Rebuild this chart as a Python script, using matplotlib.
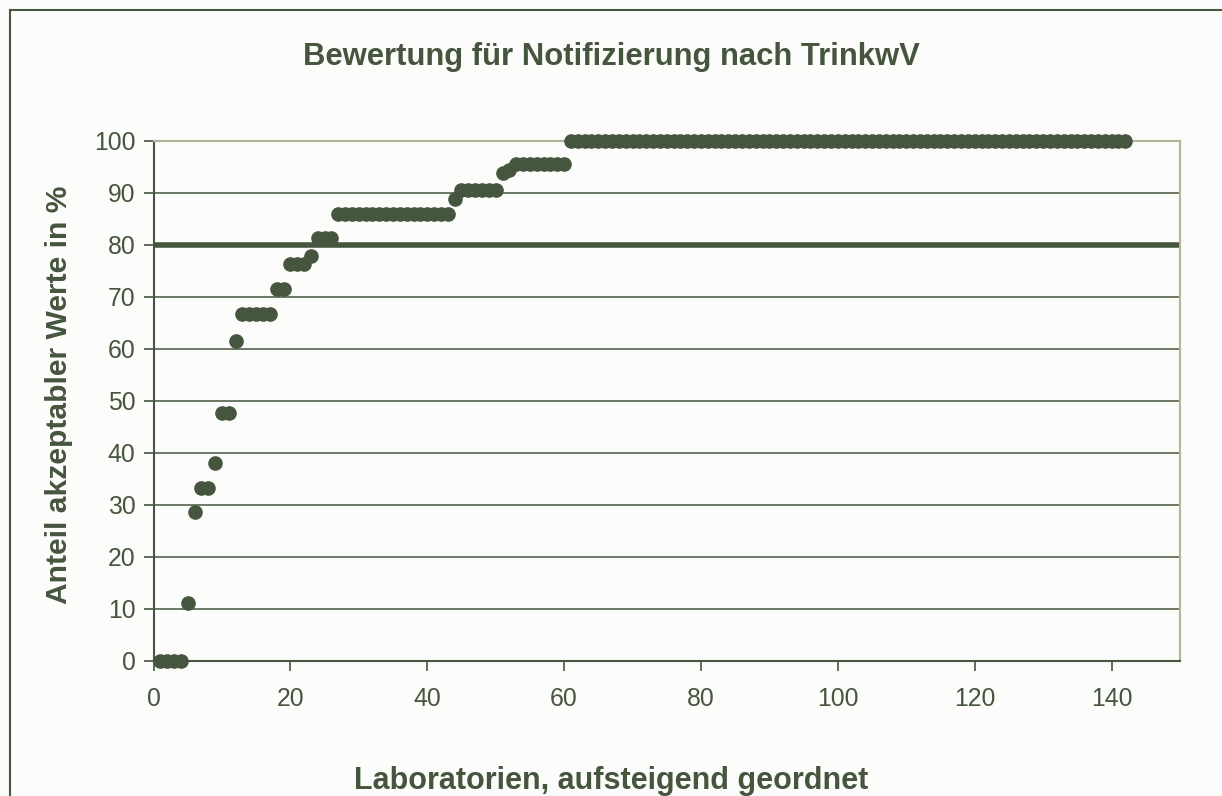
import matplotlib
matplotlib.use("Agg")
import matplotlib.pyplot as plt
import numpy as np

# Data: distinct levels (%) and how many laboratories share each level
levels = [0, 11.1, 28.6, 33.3, 38.1, 47.6, 61.5, 66.7, 71.6, 76.3, 77.8,
          81.3, 85.9, 88.9, 90.5, 93.8, 94.4, 95.6, 100]
counts = [4, 1, 1, 2, 1, 2, 1, 5, 2, 3, 1,
          3, 17, 1, 6, 1, 1, 8, 82]
threshold = 80
title = "Bewertung für Notifizierung nach TrinkwV"
xlabel = "Laboratorien, aufsteigend geordnet"
ylabel = "Anteil akzeptabler Werte in %"
xticks = [0, 20, 40, 60, 80, 100, 120, 140]
yticks = [0, 10, 20, 30, 40, 50, 60, 70, 80, 90, 100]

values = np.repeat(levels, counts)
labs = np.arange(1, len(values) + 1)

dark = "#45553e"
light = "#b3b39c"
bg = "#fcfcfa"

plt.rcParams["font.family"] = ["Liberation Sans", "DejaVu Sans"]

fig = plt.figure(figsize=(12.22, 7.96), dpi=100, facecolor=bg)
ax = fig.add_axes([153.5 / 1222, 1 - 661 / 796, (1180 - 153.5) / 1222, (661 - 141) / 796])
ax.set_facecolor(bg)

ax.set_xlim(0, 150)
ax.set_ylim(0, 100)

for y in yticks[1:-1]:
    ax.axhline(y, color=dark, lw=1.1, zorder=1)
ax.axhline(threshold, color=dark, lw=4.0, zorder=2)

ax.plot(labs, values, "o", color=dark, ms=9.5, mec=dark, zorder=3, clip_on=False)

ax.spines["left"].set_color(dark)
ax.spines["bottom"].set_color(dark)
ax.spines["top"].set_color(light)
ax.spines["right"].set_color(light)
for s in ax.spines.values():
    s.set_linewidth(1.5)

ax.set_xticks(xticks)
ax.set_yticks(yticks)
ax.tick_params(axis="both", direction="out", length=7, width=1.2, color=dark,
               labelcolor=dark, labelsize=17.8)
ax.tick_params(axis="x", pad=12)
ax.tick_params(axis="y", pad=6)

fig.text(0.5, 1 - 57 / 796, title, ha="center", va="center", fontsize=22.3,
         fontweight="bold", color=dark)
fig.text(0.5, 1 - 781 / 796, xlabel, ha="center", va="center", fontsize=22,
         fontweight="bold", color=dark)
fig.text(59 / 1222, 1 - 395 / 796, ylabel, ha="center", va="center", fontsize=21.6,
         fontweight="bold", color=dark, rotation=90)

# outer chart border (left and top visible)
fig.add_artist(plt.Line2D([10 / 1222, 10 / 1222], [0, 1 - 10 / 796],
                          transform=fig.transFigure, color=dark, lw=1.5))
fig.add_artist(plt.Line2D([10 / 1222, 1], [1 - 10 / 796, 1 - 10 / 796],
                          transform=fig.transFigure, color=dark, lw=1.5))

fig.savefig("out.png", dpi=100, facecolor=bg)
